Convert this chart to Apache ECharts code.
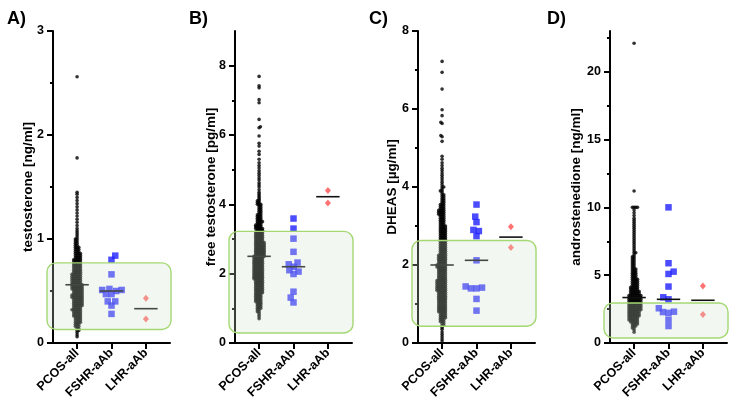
<!DOCTYPE html>
<html><head><meta charset="utf-8">
<script src="https://cdn.jsdelivr.net/npm/echarts@6/dist/echarts.min.js"></script>
<style>html,body{margin:0;padding:0;background:#fff}#c{width:736px;height:417px}</style>
</head><body><div id="c"></div>
<script>
// ---------- DATA ----------
const categories = ['PCOS-all', 'FSHR-aAb', 'LHR-aAb'];
const panelLetters = ['A)', 'B)', 'C)', 'D)'];
const axisTitles = ['testosterone [ng/ml]', 'free testosterone [pg/ml]', 'DHEAS [µg/ml]', 'androstenedione [ng/ml]'];
const yMax = [3, 9, 8, 23];
const yMajorTicks = [[0, 1, 2, 3], [0, 2, 4, 6, 8], [0, 2, 4, 6, 8], [0, 5, 10, 15, 20]];
const yMinorTicks = [[0.5, 1.5, 2.5], [1, 3, 5, 7], [1, 3, 5, 7], [2.5, 7.5, 12.5, 17.5, 22.5]];
const referenceRanges = [[0.13, 0.77], [0.29, 3.22], [0.43, 2.63], [0.37, 2.95]];

// PCOS-all: values read as histogram (value level -> number of patients) plus single sparse points
const pcosA_levels = [0.06,0.08,0.10,0.12,0.14,0.16,0.18,0.20,0.22,0.24,0.26,0.28,0.30,0.32,0.34,0.36,0.38,0.40,0.42,0.44,0.46,0.48,0.50,0.52,0.54,0.56,0.58,0.60,0.62,0.64,0.66,0.68,0.70,0.72,0.74,0.76,0.78,0.80,0.82,0.84,0.86,0.88,0.90,0.92,0.94,0.96,0.98,1.00,1.02,1.04,1.06,1.08,1.10];
const pcosA_counts = [1,1,1,2,2,3,3,4,4,4,5,5,5,6,5,6,6,6,6,7,7,6,6,7,7,7,6,6,6,6,6,5,5,5,5,5,5,5,4,4,4,3,3,3,2,2,2,2,1,1,1,1,1];
const pcosA_single = [1.13,1.16,1.19,1.22,1.25,1.28,1.31,1.34,1.37,1.40,1.43,1.45,1.78,2.56];

const pcosB_levels = [0.70,0.75,0.80,0.85,0.90,0.95,1.00,1.05,1.10,1.15,1.20,1.25,1.30,1.35,1.40,1.45,1.50,1.55,1.60,1.65,1.70,1.75,1.80,1.85,1.90,1.95,2.00,2.05,2.10,2.15,2.20,2.25,2.30,2.35,2.40,2.45,2.50,2.55,2.60,2.65,2.70,2.75,2.80,2.85,2.90,2.95,3.00,3.05,3.10,3.15,3.20,3.25,3.30,3.35,3.40,3.45,3.50,3.55,3.60,3.65,3.70,3.75,3.80,3.85,3.90,3.95,4.00,4.05,4.10,4.15,4.20,4.25,4.30,4.35];
const pcosB_counts = [1,1,1,1,2,2,3,3,3,3,4,4,4,4,4,5,5,5,5,5,5,5,5,6,6,6,6,6,6,6,6,6,6,6,6,6,7,6,6,6,6,6,6,6,6,5,5,5,5,5,5,4,5,4,4,3,4,3,3,3,3,2,2,2,2,2,3,2,2,1,1,1,1,1];
const pcosB_single = [4.42,4.50,4.56,4.62,4.70,4.76,4.83,4.90,4.97,5.05,5.12,5.20,5.30,5.44,5.53,5.68,5.76,5.97,6.21,6.24,6.45,6.93,7.02,7.36,7.42,7.69];

const pcosC_levels = [0.35,0.40,0.45,0.50,0.55,0.60,0.65,0.70,0.75,0.80,0.85,0.90,0.95,1.00,1.05,1.10,1.15,1.20,1.25,1.30,1.35,1.40,1.45,1.50,1.55,1.60,1.65,1.70,1.75,1.80,1.85,1.90,1.95,2.00,2.05,2.10,2.15,2.20,2.25,2.30,2.35,2.40,2.45,2.50,2.55,2.60,2.65,2.70,2.75,2.80,2.85,2.90,2.95,3.00,3.05,3.10,3.15,3.20,3.25,3.30,3.35,3.40,3.45,3.50,3.55,3.60,3.65,3.70,3.75,3.80,3.85,3.90,3.95,4.00];
const pcosC_counts = [1,1,2,2,3,3,4,4,4,5,5,5,5,5,5,5,5,5,5,5,6,6,6,6,6,6,5,5,5,5,5,5,6,6,5,5,5,5,5,4,4,4,4,4,4,4,4,4,4,4,4,4,4,4,3,3,3,3,3,4,4,4,3,3,3,2,2,2,2,2,1,2,1,2];
const pcosC_single = [0.05,0.10,0.16,0.22,0.28,4.06,4.12,4.18,4.24,4.30,4.36,4.42,4.48,4.55,4.62,4.71,4.79,5.17,5.29,5.32,5.63,5.66,5.83,5.98,6.51,6.94,7.22];

const pcosD_levels = [0.80,0.95,1.10,1.25,1.40,1.55,1.70,1.85,2.00,2.15,2.30,2.45,2.60,2.75,2.90,3.05,3.20,3.35,3.50,3.65,3.80,3.95,4.10,4.25,4.40,4.55,4.70,4.85,5.00,5.15,5.30,5.45,5.60,5.75,5.90,6.05,6.20,6.35,6.50,6.65,6.80,6.95,7.10,7.25,7.40,7.55,7.70,7.85,8.00,8.15,8.30,8.45,8.60,8.75,8.90,9.05,9.20,9.40,9.60,9.80,10.00];
const pcosD_counts = [1,1,2,3,4,5,6,6,7,7,7,8,8,8,8,8,8,8,8,6,6,5,5,4,4,4,4,3,3,3,3,3,2,2,2,2,2,2,1,2,1,1,1,1,1,1,1,1,1,1,1,1,1,1,1,1,1,1,1,1,4];
const pcosD_single = [11.2, 22.1];

const fshrA = [0.84,0.80,0.66,0.52,0.51,0.51,0.50,0.47,0.47,0.40,0.40,0.36,0.28];
const fshrB = [3.59,3.30,3.01,2.63,2.32,2.27,2.20,2.10,2.06,1.99,1.48,1.31,1.17];
const fshrC = [3.55,3.24,3.10,2.90,2.87,2.74,2.12,1.45,1.42,1.40,1.40,1.13,0.83];
const fshrD = [10.0,5.88,5.26,5.09,4.16,3.37,3.22,2.56,2.31,2.28,2.22,1.72,1.25];

const lhrA = [0.43, 0.23];
const lhrB = [4.40, 4.04];
const lhrC = [2.98, 2.45];
const lhrD = [4.20, 2.10];

// ---------- BUILD ----------
function expand(levels, counts, single) {
  const out = [];
  levels.forEach((v, i) => { for (let k = 0; k < counts[i]; k++) out.push(v); });
  return out.concat(single);
}
const pcos = [
  expand(pcosA_levels, pcosA_counts, pcosA_single),
  expand(pcosB_levels, pcosB_counts, pcosB_single),
  expand(pcosC_levels, pcosC_counts, pcosC_single),
  expand(pcosD_levels, pcosD_counts, pcosD_single)
];
const fshr = [fshrA, fshrB, fshrC, fshrD];
const lhr = [lhrA, lhrB, lhrC, lhrD];

const gridLefts = [53, 235, 418, 610];
const gridW = 117, gridTop = 31, gridH = 312;
const xMin = -0.7, xMax = 2.7;
const pxPerX = gridW / (xMax - xMin);

function swarm(values, pyu, D) {
  const idx = values.map((v, i) => i).sort((a, b) => values[a] - values[b]);
  const placed = []; const xs = new Array(values.length);
  let flip = 1;
  for (const i of idx) {
    const y = values[i] * pyu;
    const near = placed.filter(p => Math.abs(p.y - y) < D);
    const cands = [0];
    for (const p of near) { const dx = Math.sqrt(D * D - (p.y - y) ** 2); cands.push(p.x + dx, p.x - dx); }
    cands.sort((a, b) => (Math.abs(a) - Math.abs(b)) || (flip * (b - a)));
    let chosen = 0;
    for (const c of cands) {
      if (near.every(p => (p.x - c) ** 2 + (p.y - y) ** 2 >= D * D - 1e-6)) { chosen = c; break; }
    }
    flip = -flip;
    placed.push({ x: chosen, y }); xs[i] = chosen;
  }
  return xs;
}
function median(a) {
  const s = a.slice().sort((x, y) => x - y); const n = s.length;
  return n % 2 ? s[(n - 1) / 2] : (s[n / 2 - 1] + s[n / 2]) / 2;
}
function swarmData(values, center, pyu, D) {
  const xs = swarm(values, pyu, D);
  return values.map((v, i) => [center + xs[i] / pxPerX, v]);
}

const font = 'Liberation Sans, Arial, sans-serif';
const grids = [], xAxes = [], yAxes = [], series = [], graphics = [];
const titleX = [28, 211, 392, 576];
const letterX = [7, 189, 369, 547];

for (let p = 0; p < 4; p++) {
  grids.push({ left: gridLefts[p], top: gridTop, width: gridW, height: gridH });
  xAxes.push({
    type: 'value', gridIndex: p, min: xMin, max: xMax,
    axisLine: { show: true, onZero: false, lineStyle: { color: '#000', width: 2 } },
    axisTick: { show: true, customValues: [0, 1, 2], length: 6, lineStyle: { color: '#000', width: 2 } },
    axisLabel: { customValues: [0, 1, 2], formatter: v => categories[Math.round(v)], rotate: 45, color: '#000', fontWeight: 'bold', fontSize: 12.5, fontFamily: font, margin: 8 },
    splitLine: { show: false }
  });
  yAxes.push({
    type: 'value', gridIndex: p, min: 0, max: yMax[p], position: 'left',
    axisLine: { show: true, onZero: false, lineStyle: { color: '#000', width: 2 } },
    axisTick: { show: true, customValues: yMajorTicks[p], length: 6, lineStyle: { color: '#000', width: 2 } },
    axisLabel: { customValues: yMajorTicks[p], color: '#000', fontWeight: 'bold', fontSize: 12.5, fontFamily: font, margin: 9 },
    splitLine: { show: false }
  });
  yAxes.push({
    type: 'value', gridIndex: p, min: 0, max: yMax[p], position: 'left', offset: 0,
    axisLine: { show: false, onZero: false },
    axisTick: { show: true, customValues: yMinorTicks[p], length: 3, lineStyle: { color: '#000', width: 2 } },
    axisLabel: { show: false },
    splitLine: { show: false }
  });
  const pyu = gridH / yMax[p];
  series.push({
    type: 'scatter', xAxisIndex: p, yAxisIndex: 2 * p, symbol: 'circle', symbolSize: 3.6,
    itemStyle: { color: '#000' }, z: 2, silent: true,
    data: swarmData(pcos[p], 0, pyu, 1.7)
  });
  series.push({
    type: 'scatter', xAxisIndex: p, yAxisIndex: 2 * p, symbol: 'rect', symbolSize: 6.5,
    itemStyle: { color: '#1f1fff' }, z: 2, silent: true,
    data: swarmData(fshr[p], 1, pyu, 5.6)
  });
  series.push({
    type: 'scatter', xAxisIndex: p, yAxisIndex: 2 * p, symbol: 'diamond', symbolSize: [6, 7],
    itemStyle: { color: '#ff4f4f' }, z: 2, silent: true,
    data: swarmData(lhr[p], 2, pyu, 5)
  });
  series.push({
    type: 'custom', xAxisIndex: p, yAxisIndex: 2 * p, z: 3, silent: true, clip: false,
    data: [[0, median(pcos[p])], [1, median(fshr[p])], [2, median(lhr[p])]],
    renderItem: (params, api) => {
      const c = api.value(0), m = api.value(1);
      const a = api.coord([c - 0.34, m]), b = api.coord([c + 0.34, m]);
      return { type: 'line', shape: { x1: a[0], y1: a[1], x2: b[0], y2: b[1] }, style: { stroke: '#111', lineWidth: 1.6 } };
    }
  });
  series.push({
    type: 'custom', xAxisIndex: p, yAxisIndex: 2 * p, z: 5, silent: true, clip: false,
    data: [referenceRanges[p]],
    renderItem: (params, api) => {
      const lo = api.value(0), hi = api.value(1);
      const tl = api.coord([xMin - 6 / pxPerX, hi]), br = api.coord([xMax + 1 / pxPerX, lo]);
      return { type: 'rect', shape: { x: tl[0], y: tl[1], width: br[0] - tl[0], height: br[1] - tl[1], r: 9 },
        style: { fill: 'rgba(212,224,202,0.27)', stroke: '#a4d873', lineWidth: 1.4 } };
    }
  });
  graphics.push({ type: 'text', x: titleX[p], y: gridTop + gridH / 2, rotation: Math.PI / 2,
    style: { text: axisTitles[p], font: 'bold 13.5px ' + font, fill: '#000', align: 'center', verticalAlign: 'middle' } });
  graphics.push({ type: 'text', x: letterX[p], y: 19,
    style: { text: panelLetters[p], font: 'bold 18px ' + font, fill: '#000', align: 'left', verticalAlign: 'middle' } });
}

const chart = echarts.init(document.getElementById('c'), null, { renderer: 'canvas' });
chart.setOption({
  animation: false, backgroundColor: '#fff',
  grid: grids, xAxis: xAxes, yAxis: yAxes, series: series, graphic: graphics
});
</script></body></html>
